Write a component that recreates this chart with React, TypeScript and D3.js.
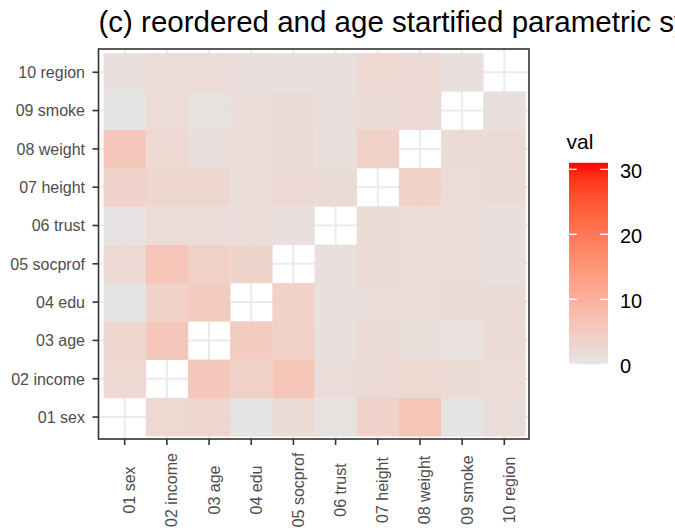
import React from "react";
import * as d3 from "d3";

// Variable labels, shared by both axes
const variables = [
  "01 sex",
  "02 income",
  "03 age",
  "04 edu",
  "05 socprof",
  "06 trust",
  "07 height",
  "08 weight",
  "09 smoke",
  "10 region",
];

// One row per y variable (01 sex .. 10 region), one value per x variable; null on the diagonal
const rowSex = [null, 2.5, 3.0, 0.3, 2.2, 0.6, 3.5, 6.0, 0.2, 1.6];
const rowIncome = [2.6, null, 5.6, 3.9, 6.2, 1.6, 2.2, 2.6, 2.2, 1.8];
const rowAge = [3.2, 5.8, null, 4.9, 4.2, 1.2, 2.2, 1.4, 0.8, 2.0];
const rowEdu = [0.3, 3.7, 4.9, null, 3.7, 1.1, 1.6, 1.8, 2.0, 1.9];
const rowSocprof = [2.4, 6.0, 4.1, 3.3, null, 1.2, 2.2, 1.8, 1.8, 1.1];
const rowTrust = [0.4, 1.8, 1.6, 1.5, 1.1, null, 2.2, 1.6, 1.6, 1.2];
const rowHeight = [3.5, 2.8, 2.8, 1.6, 2.4, 1.9, null, 3.7, 1.8, 2.0];
const rowWeight = [5.8, 2.6, 1.3, 1.8, 1.9, 1.2, 3.7, null, 2.0, 2.2];
const rowSmoke = [0.2, 1.8, 0.7, 1.8, 2.0, 1.3, 2.2, 2.4, null, 1.2];
const rowRegion = [1.1, 1.8, 1.8, 1.3, 1.1, 1.1, 2.6, 2.4, 1.2, null];

const rows = [
  rowSex,
  rowIncome,
  rowAge,
  rowEdu,
  rowSocprof,
  rowTrust,
  rowHeight,
  rowWeight,
  rowSmoke,
  rowRegion,
];

// Colour bar limits and breaks
const fillLimits = [0, 31];
const legendBreaks = [0, 10, 20, 30];

const titleText = "(c) reordered and age startified parametric synthesis";
const legendTitle = "val";

const W = 675;
const H = 530;
const FONT = "'Liberation Sans', Arial, Helvetica, sans-serif";

const panel = { x0: 98.5, x1: 529, y0: 49, y1: 439 };

export default function App() {
  const x = d3.scaleBand<string>().domain(variables).range([103.6, 525.4]).padding(0);
  const y = d3
    .scaleBand<string>()
    .domain([...variables].reverse())
    .range([53.1, 436.2])
    .padding(0);

  const fill = d3
    .scaleLinear<string>()
    .domain(fillLimits)
    .range(["#E5E5E5", "#FF0000"])
    .interpolate(d3.interpolateLab);

  const cells: { xv: string; yv: string; v: number }[] = [];
  rows.forEach((row, ri) => {
    row.forEach((v, ci) => {
      if (v !== null) cells.push({ xv: variables[ci], yv: variables[ri], v });
    });
  });

  // Legend geometry
  const barX = 569;
  const barW = 39;
  const ly = d3.scaleLinear().domain(fillLimits).range([364.3, 162.8]);
  const stops = d3.range(0, 1.0001, 0.05);

  const gridColor = "#EBEBEB";
  const tickLen = 6;

  return (
    <svg
      width={W}
      height={H}
      style={{ position: "absolute", left: 0, top: 0, background: "#fff" }}
      fontFamily={FONT}
    >
      <defs>
        <linearGradient id="valGrad" x1="0" y1="1" x2="0" y2="0">
          {stops.map((t) => (
            <stop
              key={t}
              offset={`${t * 100}%`}
              stopColor={fill(fillLimits[0] + t * (fillLimits[1] - fillLimits[0]))}
            />
          ))}
        </linearGradient>
      </defs>
      <rect x={0} y={0} width={W} height={H} fill="#fff" />

      {/* title */}
      <text x={98.5} y={32} fontSize={29.5} fill="#000">
        {titleText}
      </text>

      {/* panel background and grid */}
      <rect
        x={panel.x0}
        y={panel.y0}
        width={panel.x1 - panel.x0}
        height={panel.y1 - panel.y0}
        fill="#fff"
      />
      {variables.map((v) => {
        const cx = (x(v) as number) + x.bandwidth() / 2;
        return (
          <line key={"gx" + v} x1={cx} x2={cx} y1={panel.y0} y2={panel.y1} stroke={gridColor} strokeWidth={2} />
        );
      })}
      {variables.map((v) => {
        const cy = (y(v) as number) + y.bandwidth() / 2;
        return (
          <line key={"gy" + v} x1={panel.x0} x2={panel.x1} y1={cy} y2={cy} stroke={gridColor} strokeWidth={2} />
        );
      })}

      {/* tiles */}
      {cells.map((c) => (
        <rect
          key={c.xv + "|" + c.yv}
          x={x(c.xv)}
          y={y(c.yv)}
          width={x.bandwidth() + 0.3}
          height={y.bandwidth() + 0.3}
          fill={fill(c.v)}
        />
      ))}

      {/* panel border */}
      <rect
        x={panel.x0}
        y={panel.y0}
        width={panel.x1 - panel.x0}
        height={panel.y1 - panel.y0}
        fill="none"
        stroke="#333333"
        strokeWidth={1.6}
      />

      {/* y axis */}
      {variables.map((v) => {
        const cy = (y(v) as number) + y.bandwidth() / 2;
        return (
          <g key={"ya" + v}>
            <line x1={panel.x0 - tickLen} x2={panel.x0} y1={cy} y2={cy} stroke="#333333" strokeWidth={1.6} />
            <text x={85} y={cy + 5.8} textAnchor="end" fontSize={16} fill="#4D4D4D">
              {v}
            </text>
          </g>
        );
      })}

      {/* x axis */}
      {variables.map((v) => {
        const cx = (x(v) as number) + x.bandwidth() / 2;
        return (
          <g key={"xa" + v}>
            <line x1={cx} x2={cx} y1={panel.y1} y2={panel.y1 + tickLen} stroke="#333333" strokeWidth={1.6} />
            <text
              transform={`translate(${cx + 10.5},490) rotate(-90)`}
              textAnchor="middle"
              fontSize={16}
              fill="#4D4D4D"
            >
              {v}
            </text>
          </g>
        );
      })}

      {/* colour bar legend */}
      <text x={566.5} y={149.3} fontSize={21} fill="#000">
        {legendTitle}
      </text>
      <rect
        x={barX}
        y={ly(fillLimits[1])}
        width={barW}
        height={ly(fillLimits[0]) - ly(fillLimits[1])}
        fill="url(#valGrad)"
      />
      {legendBreaks.map((b) => (
        <g key={"lb" + b}>
          <line x1={barX} x2={barX + barW / 5} y1={ly(b)} y2={ly(b)} stroke="#fff" strokeWidth={1.3} />
          <line x1={barX + barW - barW / 5} x2={barX + barW} y1={ly(b)} y2={ly(b)} stroke="#fff" strokeWidth={1.3} />
          <text x={620} y={ly(b) + 8.5} fontSize={20} fill="#000">
            {b}
          </text>
        </g>
      ))}
    </svg>
  );
}
